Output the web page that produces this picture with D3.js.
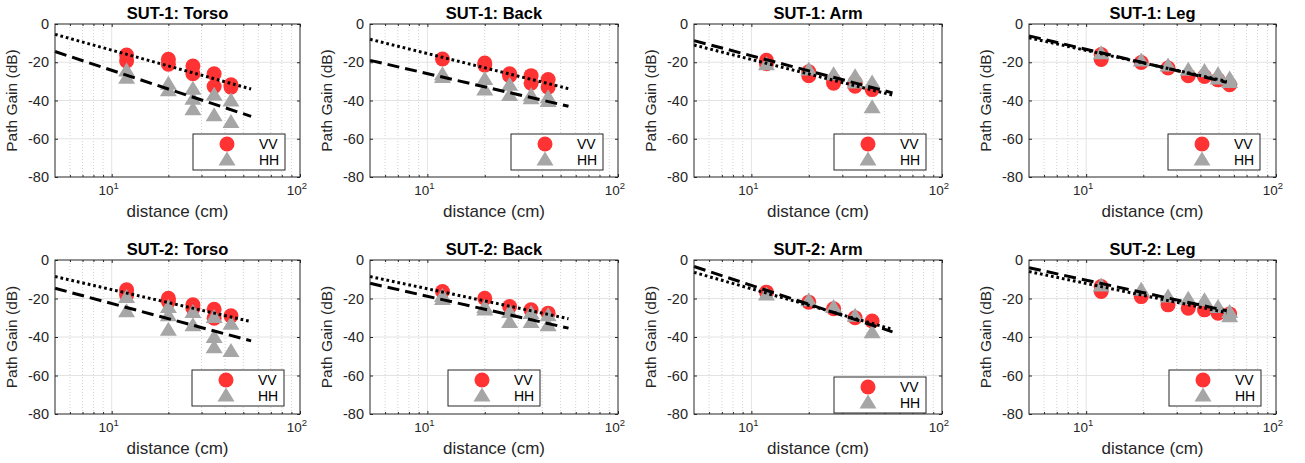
<!DOCTYPE html>
<html>
<head>
<meta charset="utf-8">
<script src="https://cdn.jsdelivr.net/npm/d3@7"></script>
<style>
  body { margin: 0; background: #fff; }
  text { font-family: "Liberation Sans", Arial, sans-serif; }
</style>
</head>
<body>
<div id="chart"></div>
<script>
// Panel titles, in reading order
const panelTitles = [
    "SUT-1: Torso", "SUT-1: Back", "SUT-1: Arm", "SUT-1: Leg",
    "SUT-2: Torso", "SUT-2: Back", "SUT-2: Arm", "SUT-2: Leg"
];

// Measurement distances (cm)
const distBody = [12, 20, 27, 35, 43];
const distLeg = [12, 19.5, 27, 34.5, 42, 49.5, 57];
const panelDist = [distBody, distBody, distBody, distLeg, distBody, distBody, distBody, distLeg];

// VV path gain (dB), one list of repeated measurements per distance
const vvValues = [
    [[-16.2, -19.3], [-18.4, -21], [-22, -26], [-26, -32.7], [-31.8, -33]],
    [[-18.3], [-20.4, -21.5], [-26, -27], [-27, -31], [-29, -33]],
    [[-19, -20.8], [-25, -27], [-29.5, -31], [-30.5, -32.5], [-34.3]],
    [[-16, -18.5], [-20.1], [-23], [-27], [-27.4], [-29.2], [-31.8]],
    [[-15.5, -18], [-19.9, -21.6], [-23.3, -25], [-25.6, -30.2], [-29]],
    [[-16.4], [-19.9], [-24.2], [-25.9], [-27.6]],
    [[-16.7], [-21.9], [-25.3], [-30], [-31.7]],
    [[-13.8, -16.4], [-19], [-23.3], [-25], [-25.9], [-27.6], [-28]]
];

// HH path gain (dB)
const hhValues = [
    [[-24, -27.8], [-31, -34.4], [-33.6, -38.8, -44.3], [-36.7, -47.5], [-39.7, -51]],
    [[-26, -27.5], [-28.5, -34], [-31.5, -36.8], [-37, -38.5], [-38, -40]],
    [[-20.8], [-23.5], [-26], [-27, -30.3], [-30.3, -43.3]],
    [[-15], [-18.8], [-21.4], [-23.6], [-24.3], [-26, -28.3], [-28.3, -30]],
    [[-19, -26.4], [-24.2, -28.5, -36], [-26.8, -33.7], [-29.4, -39.7, -45], [-32.8, -47]],
    [[-18.5, -20], [-24.2, -25.5], [-26.8, -32], [-27.3, -32], [-28.5, -33.7]],
    [[-17.6], [-20.7], [-24.1], [-28.7], [-37.3]],
    [[-13], [-15.2], [-18.7], [-19.9], [-20.7], [-24.2], [-26.8, -29]]
];

// Fitted path loss lines: value (dB) at each end of fitRange
const fitRange = [5, 55];
const vvFit = [[-5.4, -34], [-8, -33.8], [-11, -37.2], [-7.2, -30], [-8.6, -32], [-8.6, -30.5], [-6.4, -36], [-6, -27.4]];
const hhFit = [[-14.4, -48.3], [-19, -43], [-8.7, -36], [-6.2, -30.5], [-14.7, -42], [-12.1, -35.4], [-3.4, -37.3], [-4, -26.4]];

// Axes
const xDomain = [5, 100];
const yDomain = [-80, 0];
const yTicks = [-80, -60, -40, -20, 0];
const xMajor = [10, 100];
const xMinor = [6, 7, 8, 9, 20, 30, 40, 50, 60, 70, 80, 90];

// Layout (pixel boxes of each plot area, legend placement)
const colX = [[55, 300], [370, 618], [694, 942], [1029, 1276]];
const rowY = [[24, 177], [260, 414]];
const legendPos = [
    {dx: -107, y: 134}, {dx: -107, y: 134}, {dx: -108, y: 134}, {dx: -108, y: 134},
    {dx: -108, y: 370}, {left: 78, y: 370}, {dx: -108, y: 377}, {dx: -107, y: 370}
];

const red = "#ff3333";
const gray = "#a6a6a6";
const ink = "#262626";

const svg = d3.select("#chart").append("svg")
    .attr("width", 1305)
    .attr("height", 463);

const tri = "M0,-7.5L8.5,6.5L-8.5,6.5Z";

function drawPanel(i) {
    const [x0, x1] = colX[i % 4];
    const [y0, y1] = rowY[Math.floor(i / 4)];
    const x = d3.scaleLog().domain(xDomain).range([x0, x1]);
    const y = d3.scaleLinear().domain(yDomain).range([y1, y0]);
    const g = svg.append("g");

    // minor grid (dotted) on the log axis
    g.selectAll("line.minor")
        .data(xMinor)
        .join("line")
        .attr("x1", d => x(d)).attr("x2", d => x(d))
        .attr("y1", y0).attr("y2", y1)
        .attr("stroke", "#d0d0d0")
        .attr("stroke-dasharray", "1,2");

    // major grid
    g.selectAll("line.gx")
        .data(xMajor.slice(0, 1))
        .join("line")
        .attr("x1", d => x(d)).attr("x2", d => x(d))
        .attr("y1", y0).attr("y2", y1)
        .attr("stroke", "#e3e3e3");
    g.selectAll("line.gy")
        .data(yTicks.slice(1, -1))
        .join("line")
        .attr("x1", x0).attr("x2", x1)
        .attr("y1", d => y(d)).attr("y2", d => y(d))
        .attr("stroke", "#e3e3e3");

    // flatten repeated measurements into points
    const dist = panelDist[i];
    const vvPts = vvValues[i].flatMap((vals, k) => vals.map(v => [dist[k], v]));
    const hhPts = hhValues[i].flatMap((vals, k) => vals.map(v => [dist[k], v]));

    g.selectAll("circle.vv")
        .data(vvPts)
        .join("circle")
        .attr("cx", d => x(d[0]))
        .attr("cy", d => y(d[1]))
        .attr("r", 7.5)
        .attr("fill", red);

    g.selectAll("path.hh")
        .data(hhPts)
        .join("path")
        .attr("d", tri)
        .attr("transform", d => `translate(${x(d[0])},${y(d[1])})`)
        .attr("fill", gray);

    // fit lines
    const line = d3.line().x(d => x(d[0])).y(d => y(d[1]));
    g.append("path")
        .attr("d", line(fitRange.map((d, k) => [d, vvFit[i][k]])))
        .attr("fill", "none")
        .attr("stroke", "#000")
        .attr("stroke-width", 3)
        .attr("stroke-dasharray", "2.7,2.9");
    g.append("path")
        .attr("d", line(fitRange.map((d, k) => [d, hhFit[i][k]])))
        .attr("fill", "none")
        .attr("stroke", "#000")
        .attr("stroke-width", 3)
        .attr("stroke-dasharray", "12,6");

    // axes (ticks inward on all four sides)
    const axes = [
        g.append("g").attr("transform", `translate(${x0},0)`)
            .call(d3.axisLeft(y).tickValues(yTicks).tickSizeInner(-3).tickSizeOuter(0)
                .tickPadding(6).tickFormat(d => String(d))),
        g.append("g").attr("transform", `translate(${x1},0)`)
            .call(d3.axisRight(y).tickValues(yTicks).tickSizeInner(-3).tickSizeOuter(0).tickFormat("")),
        g.append("g").attr("transform", `translate(0,${y1})`)
            .call(d3.axisBottom(x).tickValues(xMajor).tickSizeInner(-3).tickSizeOuter(0).tickFormat("")),
        g.append("g").attr("transform", `translate(0,${y1})`)
            .call(d3.axisBottom(x).tickValues(xMinor).tickSizeInner(-2).tickSizeOuter(0).tickFormat("")),
        g.append("g").attr("transform", `translate(0,${y0})`)
            .call(d3.axisTop(x).tickValues(xMajor).tickSizeInner(-3).tickSizeOuter(0).tickFormat("")),
        g.append("g").attr("transform", `translate(0,${y0})`)
            .call(d3.axisTop(x).tickValues(xMinor).tickSizeInner(-2).tickSizeOuter(0).tickFormat(""))
    ];
    axes.forEach(a => {
        a.select(".domain").remove();
        a.selectAll("line").attr("stroke", ink);
    });
    axes[0].selectAll("text")
        .attr("fill", ink)
        .style("font-size", "14.5px")
        .style("font-family", '"Liberation Sans", Arial, sans-serif');

    // x tick labels as powers of ten
    const xl = g.selectAll("text.xt")
        .data(xMajor)
        .join("text")
        .attr("x", d => x(d) - 3)
        .attr("y", y1 + 18)
        .attr("text-anchor", "middle")
        .attr("fill", ink)
        .style("font-size", "13.5px");
    xl.append("tspan").text("10");
    xl.append("tspan").attr("dy", -6).style("font-size", "9.5px").text(d => Math.round(Math.log10(d)));

    // frame
    g.append("rect")
        .attr("x", x0).attr("y", y0)
        .attr("width", x1 - x0).attr("height", y1 - y0)
        .attr("fill", "none")
        .attr("stroke", ink);

    // titles and labels
    g.append("text")
        .attr("x", (x0 + x1) / 2)
        .attr("y", y0 - 5)
        .attr("text-anchor", "middle")
        .style("font-size", "16.5px")
        .style("font-weight", "bold")
        .text(panelTitles[i]);
    g.append("text")
        .attr("x", (x0 + x1) / 2)
        .attr("y", y1 + 40)
        .attr("text-anchor", "middle")
        .attr("fill", ink)
        .style("font-size", "17px")
        .text("distance (cm)");
    g.append("text")
        .attr("transform", `translate(${x0 - 38},${(y0 + y1) / 2}) rotate(-90)`)
        .attr("text-anchor", "middle")
        .attr("fill", ink)
        .style("font-size", "15.5px")
        .text("Path Gain (dB)");

    // legend
    const lp = legendPos[i];
    const lx = lp.left !== undefined ? x0 + lp.left : x1 + lp.dx;
    const ly = lp.y;
    const lg = g.append("g").attr("transform", `translate(${lx},${ly})`);
    lg.append("rect")
        .attr("width", 92).attr("height", 36)
        .attr("fill", "#fff")
        .attr("stroke", ink);
    lg.append("circle").attr("cx", 34).attr("cy", 10).attr("r", 7.5).attr("fill", red);
    lg.append("path").attr("d", tri).attr("transform", "translate(34,25)").attr("fill", gray);
    lg.selectAll("text")
        .data(["VV", "HH"])
        .join("text")
        .attr("x", 66)
        .attr("y", (d, k) => 15 + k * 16)
        .attr("fill", "#000")
        .style("font-size", "14px")
        .text(d => d);
}

panelTitles.forEach((t, i) => drawPanel(i));
</script>
</body>
</html>
